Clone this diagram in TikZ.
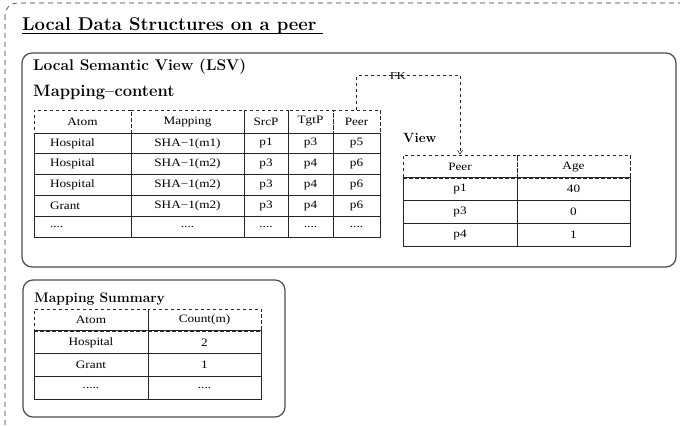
\documentclass[tikz,border=0pt]{standalone}
\usepackage{fontspec}
\usepackage{graphicx}
\usetikzlibrary{arrows.meta}
\newfontfamily\tabfont{Liberation Serif}
% table entries are set a little wider than the font
\newcommand{\tabtxt}[1]{\scalebox{1.17}[1]{#1}}
% dots cannot stand in a \foreach list as they are
\newcommand{\fourdots}{....}
\newcommand{\fivedots}{.....}

\begin{document}
\begin{tikzpicture}
[
 x=1pt, y=-1pt,
 inner sep=0pt,
 OUTER/.style={draw=black!80, line width=0.6pt, dash pattern=on 5pt off 4pt, rounded corners=12pt},
 PANEL/.style={draw=black!70, line width=1.2pt, rounded corners=10pt},
 HEAD/.style={rectangle, draw=black!85, line width=0.6pt, dash pattern=on 3.5pt off 2.5pt, minimum height=23pt, font=\tabfont\fontsize{11.3}{13}\selectfont},
 CELL/.style={rectangle, draw=black!85, line width=0.9pt, minimum height=20.8pt, font=\tabfont\fontsize{11.3}{13}\selectfont},
 LEFTCOL/.style={align=left, text width=65pt, inner xsep=16pt},
 TITLE/.style={anchor=base west, font=\bfseries\fontsize{18.5}{22}\selectfont},
 LABEL/.style={anchor=base west, font=\bfseries\fontsize{#1}{18}\selectfont},
 FKLINE/.style={draw=black!85, line width=0.6pt, dash pattern=on 3pt off 3pt},
 ],
%
\useasboundingbox (0,0) rectangle (680,427);
%
\draw [OUTER] (5,3) rectangle (695,440);
\node [TITLE] (TTL) at (22,31) {Local Data Structures on a peer};
\draw [thick] ([yshift=-2.5pt]TTL.base west) -- ([yshift=-2.5pt,xshift=6pt]TTL.base east);
%
% local semantic view
\draw [PANEL] (22,53) rectangle (676,267);
\node [LABEL=15.5] (LSV) at (33,71) {Local Semantic View (LSV)};
\node [LABEL=16.5] (MAPC) at (33,97) {Mapping--content};
%
\node [HEAD, minimum width=97pt]  (MC-0-1) at (82.5,121.5)  {\tabtxt{Atom}};
\node [HEAD, minimum width=113pt] (MC-0-2) at (187.5,121.5) {\tabtxt{Mapping}};
\node [HEAD, minimum width=44pt]  (MC-0-3) at (266,121.5)   {\tabtxt{SrcP}};
\node [HEAD, minimum width=45pt]  (MC-0-4) at (310.5,121.5) {\tabtxt{TgtP}};
\node [HEAD, minimum width=47pt]  (MC-0-5) at (356.5,121.5) {\tabtxt{Peer}};
%
\foreach \a/\m/\s/\t/\p [count=\i] in
   {Hospital/SHA−1(m1)/p1/p3/p5,
    Hospital/SHA−1(m2)/p3/p4/p6,
    Hospital/SHA−1(m2)/p3/p4/p6,
    Grant/SHA−1(m2)/p3/p4/p6,
    \fourdots/\fourdots/\fourdots/\fourdots/\fourdots}
      {
        \pgfmathsetmacro{\yy}{122.6+20.8*\i}
        \node [CELL, minimum width=97pt, LEFTCOL] (MC-\i-1) at (82.5,\yy)  {\tabtxt{\a}};
        \node [CELL, minimum width=113pt]         (MC-\i-2) at (187.5,\yy) {\tabtxt{\m}};
        \node [CELL, minimum width=44pt]          (MC-\i-3) at (266,\yy)   {\tabtxt{\s}};
        \node [CELL, minimum width=45pt]          (MC-\i-4) at (310.5,\yy) {\tabtxt{\t}};
        \node [CELL, minimum width=47pt]          (MC-\i-5) at (356.5,\yy) {\tabtxt{\p}};
       }
%
\node [LABEL=13.4] (VIEW) at (403,143) {View};
\node [HEAD, minimum width=114pt] (VW-0-1) at (460,166.5)   {\tabtxt{Peer}};
\node [HEAD, minimum width=113pt] (VW-0-2) at (573.5,166.5) {\tabtxt{Age}};
\foreach \p/\g [count=\i] in {p1/40, p3/0, p4/1}
      {
        \pgfmathsetmacro{\yy}{166.6+22.7*\i}
        \node [CELL, minimum height=22.7pt, minimum width=114pt] (VW-\i-1) at (460,\yy)   {\tabtxt{\p}};
        \node [CELL, minimum height=22.7pt, minimum width=113pt] (VW-\i-2) at (573.5,\yy) {\tabtxt{\g}};
       }
%
\draw [FKLINE, -{Straight Barb[length=4pt,width=5pt]}] (MC-0-5.north) -- ++(0,-34)
   -| node [pos=0.2, font=\tabfont\fontsize{10.5}{12}\selectfont] (FK) {\tabtxt{FK}} (VW-0-1.north);
%
% mapping summary
\draw [PANEL] (23,280) rectangle (285,417);
\node [LABEL=13.8] (MSUM) at (34,303) {Mapping Summary};
\node [HEAD, minimum height=22pt, minimum width=114pt] (MS-0-1) at (91,320)    {\tabtxt{Atom}};
\node [HEAD, minimum height=22pt, minimum width=113pt] (MS-0-2) at (204.5,320) {\tabtxt{Count(m)}};
\foreach \a/\c [count=\i] in {Hospital/2, Grant/1, \fivedots/\fourdots}
      {
        \pgfmathsetmacro{\yy}{319.6+22.7*\i}
        \node [CELL, minimum height=22.7pt, minimum width=114pt] (MS-\i-1) at (91,\yy)    {\tabtxt{\a}};
        \node [CELL, minimum height=22.7pt, minimum width=113pt] (MS-\i-2) at (204.5,\yy) {\tabtxt{\c}};
       }
\end{tikzpicture}
\end{document}
